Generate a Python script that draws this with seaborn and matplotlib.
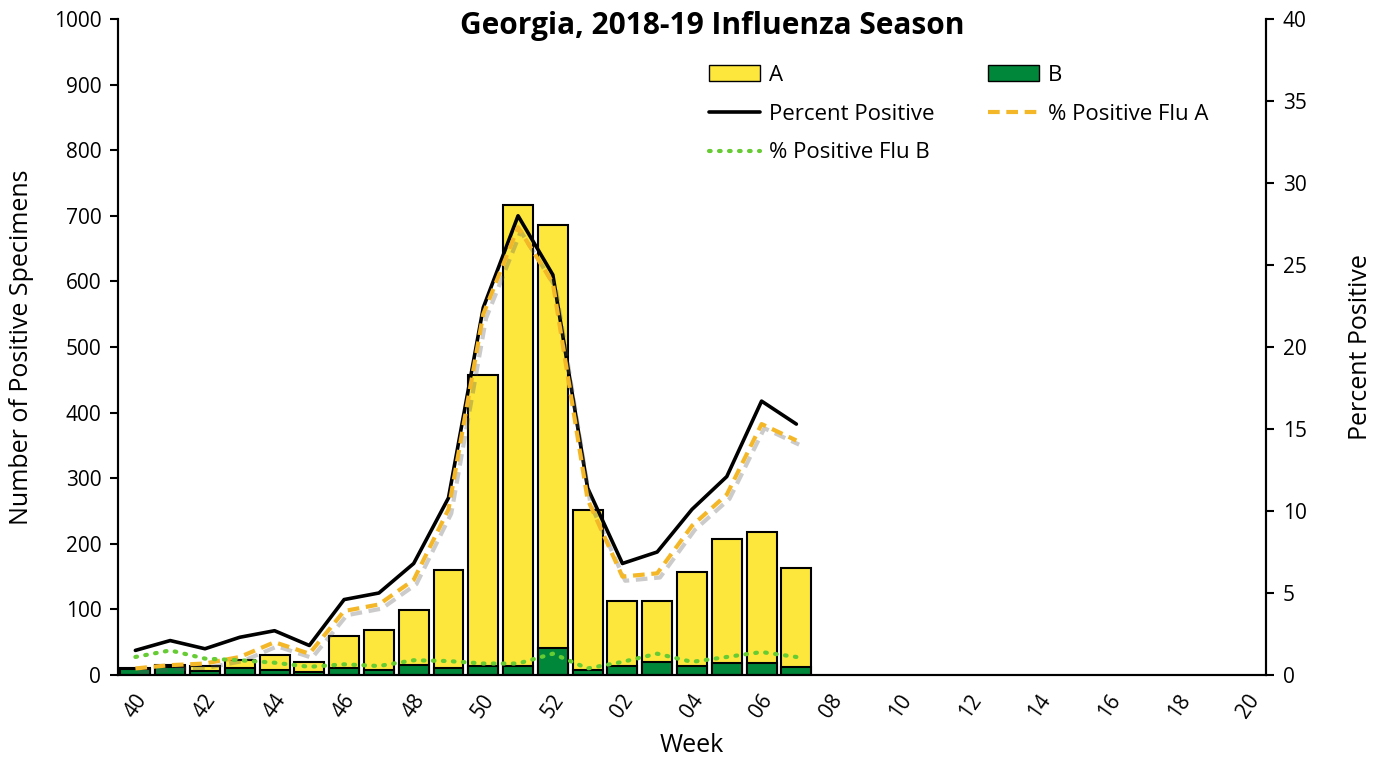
import numpy as np
import pandas as pd
import seaborn as sns
import matplotlib.pyplot as plt
import matplotlib.patheffects as pe
from matplotlib.patches import Patch
from matplotlib.lines import Line2D

sns.set_style("white")
plt.rcParams["font.family"] = ["Open Sans", "DejaVu Sans"]
plt.rcParams["text.color"] = "black"
plt.rcParams["axes.labelcolor"] = "black"
plt.rcParams["xtick.color"] = "black"
plt.rcParams["ytick.color"] = "black"

# Season weeks (MMWR weeks 40 - 20)
weeks = [f"{w:02d}" for w in list(range(40, 53)) + list(range(1, 21))]

# Weekly values (weeks 40 - 07)
data_weeks = weeks[:20]
flu_a = [2, 4, 7, 13, 23, 15, 50, 61, 84, 150, 443, 702, 645, 243, 99, 93, 143, 188, 199, 151]
flu_b = [9, 12, 6, 10, 8, 5, 10, 7, 15, 10, 14, 14, 41, 8, 14, 20, 14, 19, 19, 12]
pct_pos = [1.5, 2.1, 1.6, 2.3, 2.7, 1.8, 4.6, 5.0, 6.8, 10.8, 22.4, 28.0, 24.4, 11.4,
           6.8, 7.5, 10.1, 12.1, 16.7, 15.3]
pct_a = [0.4, 0.6, 0.7, 1.1, 2.0, 1.3, 3.9, 4.3, 5.8, 10.1, 22.0, 27.3, 23.9, 10.7,
         6.0, 6.2, 9.1, 11.0, 15.3, 14.3]
pct_b = [1.1, 1.5, 1.0, 0.9, 0.75, 0.5, 0.65, 0.55, 0.9, 0.85, 0.7, 0.7, 1.3, 0.4,
         0.8, 1.3, 0.8, 1.1, 1.4, 1.1]

yellow = "#FDE73C"
green = "#00873A"
orange = "#F4B727"
lime = "#66CC33"

df = pd.DataFrame({"week": data_weeks, "A": flu_a, "B": flu_b})
df["total"] = df["A"] + df["B"]

fig = plt.figure(figsize=(13.77, 7.59), dpi=100)
ax = fig.add_axes([118 / 1377, 84 / 759, 1148 / 1377, 656 / 759])

# Stacked bars: total (yellow) then B (green) over it
sns.barplot(data=df, x="week", y="total", order=weeks, color=yellow, saturation=1,
            width=0.86, edgecolor="black", linewidth=1.5, ax=ax)
sns.barplot(data=df, x="week", y="B", order=weeks, color=green, saturation=1,
            width=0.86, edgecolor="black", linewidth=1.5, ax=ax)

ax.set_ylim(0, 1000)
ax.set_yticks(range(0, 1001, 100))
ax.set_xlim(-0.5, len(weeks) - 0.5)
ax.set_xticks(np.arange(-0.5, len(weeks), 1))
ax.set_xticklabels([])
ax.set_xticks(np.arange(0, len(weeks), 2), minor=True)
ax.set_xticklabels(weeks[::2], minor=True, rotation=55, ha="center", fontsize=15)
ax.tick_params(axis="x", which="minor", length=0, pad=11)
ax.tick_params(axis="x", which="major", length=6, width=1.5, direction="out")
ax.tick_params(axis="y", length=6, width=1.5, direction="out", labelsize=15, pad=6)
ax.set_xlabel("Week", fontsize=18, labelpad=8)
ax.set_ylabel("Number of Positive Specimens", fontsize=18, labelpad=14)

# Percent positive lines on the secondary axis
ax2 = ax.twinx()
x = np.arange(len(data_weeks))
sns.lineplot(x=x, y=pct_pos, ax=ax2, color="black", linewidth=2.6)
sns.lineplot(x=x, y=pct_a, ax=ax2, color=orange, linewidth=3, linestyle=(0, (2.8, 1.6)),
             path_effects=[pe.SimpleLineShadow(offset=(2, -3), shadow_color="#555555", alpha=0.3),
                           pe.Normal()])
sns.lineplot(x=x, y=pct_b, ax=ax2, color=lime, linewidth=3, linestyle=(0, (0.4, 2.0)),
             dash_capstyle="round")
ax2.set_ylim(0, 40)
ax2.set_yticks(range(0, 41, 5))
ax2.set_xlim(-0.5, len(weeks) - 0.5)
ax2.tick_params(axis="y", length=6, width=1.5, direction="out", labelsize=15, pad=6)
ax2.set_ylabel("Percent Positive", fontsize=18, labelpad=30)

for a in (ax, ax2):
    a.spines["top"].set_visible(False)
    for s in ("left", "right", "bottom"):
        a.spines[s].set_linewidth(1.5)
        a.spines[s].set_color("black")

handles = [
    Patch(facecolor=yellow, edgecolor="black", label="A"),
    Line2D([], [], color="black", linewidth=2.6, label="Percent Positive"),
    Line2D([], [], color=lime, linewidth=3, linestyle=(0, (0.4, 2.0)), dash_capstyle="round",
           label="% Positive Flu B"),
    Patch(facecolor=green, edgecolor="black", label="B"),
    Line2D([], [], color=orange, linewidth=3, linestyle=(0, (2.8, 1.6)), label="% Positive Flu A"),
]
ax2.legend(handles=handles, ncol=2, frameon=False, fontsize=16, loc="upper left",
           bbox_to_anchor=(700 / 1377, 1 - 56 / 759), bbox_transform=fig.transFigure,
           handlelength=2.3, handletextpad=0.4, columnspacing=2.4, labelspacing=0.8,
           borderaxespad=0)

fig.text(712 / 1377, 1 - 26 / 759, "Georgia, 2018-19 Influenza Season", ha="center",
         va="center", fontsize=21.5, fontweight="bold")

fig.savefig("out.png", dpi=100)
